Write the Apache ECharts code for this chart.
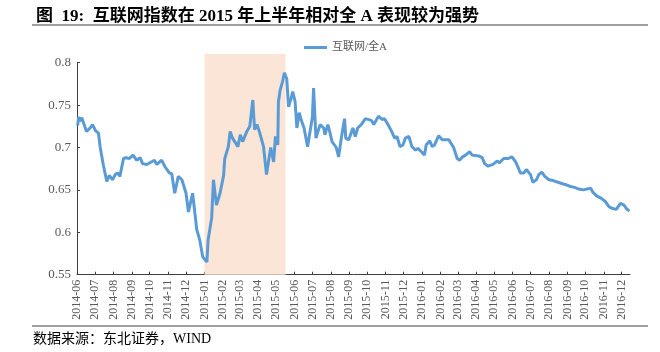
<!DOCTYPE html>
<html>
<head>
<meta charset="utf-8">
<script src="https://cdn.jsdelivr.net/npm/echarts@6/dist/echarts.min.js"></script>
<style>
  html, body { margin: 0; padding: 0; background: #fff; }
  #chart { width: 660px; height: 352px; }
</style>
</head>
<body>
<div id="chart"></div>
<script>
// 互联网/全A
const dates = [
  "2014-06-02", "2014-06-04", "2014-06-06", "2014-06-09", "2014-06-12", "2014-06-17", "2014-06-23", "2014-06-27",
  "2014-07-02", "2014-07-07", "2014-07-10", "2014-07-15", "2014-07-21", "2014-07-25", "2014-07-31",
  "2014-08-04", "2014-08-08", "2014-08-12", "2014-08-18", "2014-08-22", "2014-08-28",
  "2014-09-03", "2014-09-09", "2014-09-15", "2014-09-19", "2014-09-26",
  "2014-10-09", "2014-10-13", "2014-10-21", "2014-10-27",
  "2014-11-03", "2014-11-07", "2014-11-12", "2014-11-18", "2014-11-24",
  "2014-12-01", "2014-12-05", "2014-12-12", "2014-12-19", "2014-12-24", "2014-12-29",
  "2015-01-05", "2015-01-07", "2015-01-13", "2015-01-16", "2015-01-21", "2015-01-27",
  "2015-02-02", "2015-02-04", "2015-02-10", "2015-02-13", "2015-02-17", "2015-02-26",
  "2015-03-02", "2015-03-06", "2015-03-13", "2015-03-18", "2015-03-23", "2015-03-26", "2015-03-30",
  "2015-04-03", "2015-04-10", "2015-04-15", "2015-04-17", "2015-04-22", "2015-04-27", "2015-04-30",
  "2015-05-04", "2015-05-05", "2015-05-08", "2015-05-12", "2015-05-15", "2015-05-19", "2015-05-22", "2015-05-26", "2015-05-29",
  "2015-06-02", "2015-06-05", "2015-06-09", "2015-06-12", "2015-06-17", "2015-06-23", "2015-06-26", "2015-07-01",
  "2015-07-03", "2015-07-07", "2015-07-10", "2015-07-14", "2015-07-20", "2015-07-22", "2015-07-27", "2015-07-30",
  "2015-08-03", "2015-08-10", "2015-08-14", "2015-08-19", "2015-08-24", "2015-08-26", "2015-08-31",
  "2015-09-07", "2015-09-11", "2015-09-15", "2015-09-21", "2015-09-28",
  "2015-10-08", "2015-10-12", "2015-10-20", "2015-10-26", "2015-10-30",
  "2015-11-05", "2015-11-11", "2015-11-16", "2015-11-20", "2015-11-25", "2015-11-30",
  "2015-12-04", "2015-12-10", "2015-12-15", "2015-12-21", "2015-12-25", "2015-12-31",
  "2016-01-05", "2016-01-08", "2016-01-14", "2016-01-18", "2016-01-22", "2016-01-29",
  "2016-02-04", "2016-02-15", "2016-02-18", "2016-02-23", "2016-02-29",
  "2016-03-04", "2016-03-09", "2016-03-14", "2016-03-21", "2016-03-25",
  "2016-04-05", "2016-04-11", "2016-04-15", "2016-04-21", "2016-04-29",
  "2016-05-06", "2016-05-10", "2016-05-17", "2016-05-24", "2016-05-31",
  "2016-06-06", "2016-06-10", "2016-06-14", "2016-06-20", "2016-06-24",
  "2016-07-01", "2016-07-05", "2016-07-11", "2016-07-15", "2016-07-20", "2016-07-25",
  "2016-08-01", "2016-08-08", "2016-08-16", "2016-08-25", "2016-08-30",
  "2016-09-06", "2016-09-13", "2016-09-20", "2016-09-27",
  "2016-10-10", "2016-10-14", "2016-10-20", "2016-10-28",
  "2016-11-04", "2016-11-10", "2016-11-16", "2016-11-22", "2016-11-29",
  "2016-12-05", "2016-12-09", "2016-12-14"
];
const ratio = [
  0.726, 0.736, 0.731, 0.735, 0.734, 0.719, 0.723, 0.727,
  0.720, 0.717, 0.700, 0.680, 0.660, 0.667, 0.662,
  0.668, 0.670, 0.666, 0.687, 0.688, 0.687,
  0.691, 0.685, 0.688, 0.681, 0.680,
  0.685, 0.680, 0.685, 0.677,
  0.670, 0.669, 0.646, 0.666, 0.662,
  0.646, 0.624, 0.646, 0.603, 0.591, 0.571,
  0.565, 0.591, 0.617, 0.662, 0.632, 0.646,
  0.667, 0.687, 0.701, 0.719, 0.711, 0.701,
  0.715, 0.707, 0.719, 0.725, 0.756, 0.721, 0.727,
  0.719, 0.701, 0.668, 0.670, 0.700, 0.683, 0.713,
  0.703, 0.754, 0.768, 0.778, 0.788, 0.781, 0.748, 0.757, 0.766,
  0.754, 0.723, 0.741, 0.733, 0.723, 0.701, 0.700, 0.736,
  0.770, 0.711, 0.709, 0.727, 0.723, 0.715, 0.727, 0.719,
  0.707, 0.700, 0.689, 0.713, 0.734, 0.711, 0.709,
  0.723, 0.713, 0.723, 0.727, 0.734,
  0.732, 0.727, 0.737, 0.733, 0.734,
  0.727, 0.719, 0.711, 0.713, 0.701, 0.703,
  0.711, 0.713, 0.701, 0.697, 0.699, 0.695,
  0.691, 0.703, 0.708, 0.701, 0.703, 0.714,
  0.709, 0.709, 0.708, 0.700, 0.687,
  0.685, 0.689, 0.691, 0.695, 0.691,
  0.690, 0.688, 0.681, 0.678, 0.680,
  0.684, 0.682, 0.687, 0.687, 0.689,
  0.683, 0.677, 0.670, 0.670, 0.674,
  0.668, 0.659, 0.662, 0.668, 0.671, 0.666,
  0.662, 0.661, 0.659, 0.657, 0.656,
  0.654, 0.653, 0.651, 0.650,
  0.652, 0.647, 0.643, 0.640,
  0.636, 0.630, 0.628, 0.627, 0.634,
  0.632, 0.628, 0.625
];
// 2015 上半年 shaded period
const highlight = ["2015-01-01", "2015-05-17"];
const yTicks = { min: 0.55, max: 0.8, step: 0.05 };
const xRange = ["2014-06-01", "2016-12-15"];

const serif = "'Liberation Serif', 'Times New Roman', 'Noto Sans CJK SC', serif";
const grey = "#595959";

const chart = echarts.init(document.getElementById("chart"));

chart.setOption({
  animation: false,
  title: {
    text: "图  19:  互联网指数在 2015 年上半年相对全 A 表现较为强势",
    left: 31,
    top: 3,
    textStyle: { fontFamily: serif, fontSize: 17, fontWeight: "bold", color: "#000" },
  },
  legend: {
    data: ["互联网/全A"],
    left: 299,
    top: 37,
    icon: "rect",
    itemWidth: 23,
    itemHeight: 3,
    textStyle: { fontFamily: serif, fontSize: 11, color: grey },
  },
  grid: [
    { left: 77, right: 30, top: 62.7, bottom: 77.3, containLabel: false },
    { left: 77, right: 30, top: 54, bottom: 77.3, containLabel: false },
  ],
  xAxis: [
    {
      type: "time",
      gridIndex: 0,
      min: xRange[0],
      max: xRange[1],
      splitNumber: 31,
      minInterval: 28 * 86400000,
      maxInterval: 31 * 86400000,
      axisLine: { lineStyle: { color: "#404040", width: 1 } },
      axisTick: { inside: true, length: 3, lineStyle: { color: "#404040" } },
      splitLine: { show: false },
      axisLabel: {
        formatter: "{yyyy}-{MM}",
        rotate: 90,
        interval: 0,
        margin: 5,
        hideOverlap: false,
        fontFamily: serif,
        fontSize: 12,
        color: grey,
      },
    },
    { type: "time", gridIndex: 1, min: xRange[0], max: xRange[1], show: false },
  ],
  yAxis: [
    {
      type: "value",
      gridIndex: 0,
      min: yTicks.min,
      max: yTicks.max,
      interval: yTicks.step,
      axisLine: { show: true, lineStyle: { color: "#404040", width: 1 } },
      axisTick: { show: true, inside: true, length: 3, lineStyle: { color: "#404040" } },
      splitLine: { show: false },
      axisLabel: { fontFamily: serif, fontSize: 13, color: grey, margin: 6 },
    },
    { type: "value", gridIndex: 1, min: 0, max: 1, show: false },
  ],
  series: [
    {
      name: "shade",
      type: "line",
      xAxisIndex: 1,
      yAxisIndex: 1,
      data: [],
      z: 1,
      silent: true,
      markArea: {
        silent: true,
        itemStyle: { color: "#FBE5D6" },
        data: [[{ xAxis: highlight[0] }, { xAxis: highlight[1] }]],
      },
    },
    {
      name: "互联网/全A",
      type: "line",
      xAxisIndex: 0,
      yAxisIndex: 0,
      z: 3,
      data: dates.map((d, i) => [d, ratio[i]]),
      showSymbol: false,
      symbol: "none",
      lineStyle: { color: "#5B9BD5", width: 3 },
      itemStyle: { color: "#5B9BD5" },
    },
  ],
  graphic: [
    { type: "line", shape: { x1: 32, y1: 25, x2: 648, y2: 25 }, style: { stroke: "#7f7f7f", lineWidth: 1.5 } },
    { type: "line", shape: { x1: 32, y1: 326, x2: 648, y2: 326 }, style: { stroke: "#7f7f7f", lineWidth: 1.5 } },
    {
      type: "text",
      left: 33,
      top: 332,
      style: { text: "数据来源：东北证券，WIND", font: "14px " + serif, fill: "#000" },
    },
  ],
});
</script>
</body>
</html>
